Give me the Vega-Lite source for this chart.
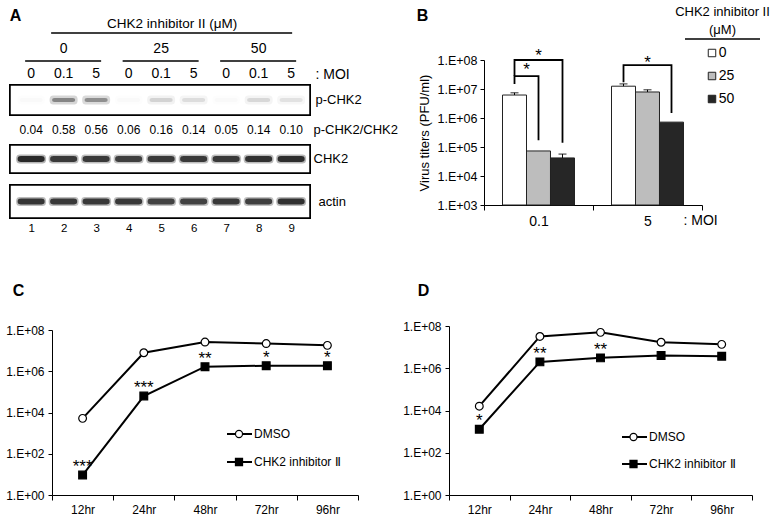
{
  "$schema": "https://vega.github.io/schema/vega-lite/v6.json",
  "width": 779,
  "height": 524,
  "autosize": {"type": "none"},
  "padding": 0,
  "background": "white",
  "config": {
    "view": {"stroke": null},
    "font": "Liberation Sans",
    "axis": {"grid": false, "labelFont": "Liberation Sans", "titleFont": "Liberation Sans", "labelColor": "black", "titleColor": "black", "domainColor": "black", "tickColor": "black", "labelFontSize": 12, "titleFontWeight": "normal"},
    "text": {"font": "Liberation Sans", "color": "black"}
  },
  "datasets": {
    "lanes": [
      {"lane": 1, "moi": "0", "ratio": "0.04", "p": 0.02, "chk2": 0.95, "actin": 0.88},
      {"lane": 2, "moi": "0.1", "ratio": "0.58", "p": 0.5, "chk2": 0.85, "actin": 0.85},
      {"lane": 3, "moi": "5", "ratio": "0.56", "p": 0.45, "chk2": 0.85, "actin": 0.85},
      {"lane": 4, "moi": "0", "ratio": "0.06", "p": 0.02, "chk2": 0.82, "actin": 0.85},
      {"lane": 5, "moi": "0.1", "ratio": "0.16", "p": 0.16, "chk2": 0.85, "actin": 0.8},
      {"lane": 6, "moi": "5", "ratio": "0.14", "p": 0.12, "chk2": 0.85, "actin": 0.8},
      {"lane": 7, "moi": "0", "ratio": "0.05", "p": 0.02, "chk2": 0.85, "actin": 0.85},
      {"lane": 8, "moi": "0.1", "ratio": "0.14", "p": 0.14, "chk2": 0.9, "actin": 0.82},
      {"lane": 9, "moi": "5", "ratio": "0.10", "p": 0.1, "chk2": 0.92, "actin": 0.9}
    ],
    "doses": [
      {"dose": "0", "first": 1, "mid": 2, "last": 3},
      {"dose": "25", "first": 4, "mid": 5, "last": 6},
      {"dose": "50", "first": 7, "mid": 8, "last": 9}
    ],
    "inhibitor": [{"label": "CHK2 inhibitor II (μM)", "first": 1, "mid": 5, "last": 9}],
    "titers": [
      {"moi": "0.1", "dose": "0", "titer": 6200000, "upper": 7400000},
      {"moi": "0.1", "dose": "25", "titer": 73000, "upper": null},
      {"moi": "0.1", "dose": "50", "titer": 42000, "upper": 57000},
      {"moi": "5", "dose": "0", "titer": 12500000, "upper": 15000000},
      {"moi": "5", "dose": "25", "titer": 7900000, "upper": 9400000},
      {"moi": "5", "dose": "50", "titer": 720000, "upper": null}
    ],
    "brackets": [
      {"bracket": "b1", "step": 1, "moi": "0.1", "dose": "0", "titer": 15000000},
      {"bracket": "b1", "step": 2, "moi": "0.1", "dose": "0", "titer": 28000000},
      {"bracket": "b1", "step": 3, "moi": "0.1", "dose": "25", "titer": 28000000},
      {"bracket": "b1", "step": 4, "moi": "0.1", "dose": "25", "titer": 170000},
      {"bracket": "b2", "step": 1, "moi": "0.1", "dose": "0", "titer": 28000000},
      {"bracket": "b2", "step": 2, "moi": "0.1", "dose": "0", "titer": 100000000},
      {"bracket": "b2", "step": 3, "moi": "0.1", "dose": "50", "titer": 100000000},
      {"bracket": "b2", "step": 4, "moi": "0.1", "dose": "50", "titer": 140000},
      {"bracket": "b3", "step": 1, "moi": "5", "dose": "0", "titer": 17000000},
      {"bracket": "b3", "step": 2, "moi": "5", "dose": "0", "titer": 67000000},
      {"bracket": "b3", "step": 3, "moi": "5", "dose": "50", "titer": 67000000},
      {"bracket": "b3", "step": 4, "moi": "5", "dose": "50", "titer": 1500000}
    ],
    "bstars": [
      {"bracket": "b1", "moi": "0.1", "dose": "0", "titer": 45000000, "label": "*"},
      {"bracket": "b2", "moi": "0.1", "dose": "25", "titer": 137000000, "label": "*"},
      {"bracket": "b3", "moi": "5", "dose": "25", "titer": 76000000, "label": "*"}
    ],
    "doselegend": [{"dose": "0"}, {"dose": "25"}, {"dose": "50"}],
    "serieslegend": [{"series": "DMSO"}, {"series": "CHK2 inhibitor Ⅱ"}],
    "growthC": [
      {"time": "12hr", "series": "DMSO", "titer": 5200},
      {"time": "24hr", "series": "DMSO", "titer": 7900000},
      {"time": "48hr", "series": "DMSO", "titer": 26000000},
      {"time": "72hr", "series": "DMSO", "titer": 22000000},
      {"time": "96hr", "series": "DMSO", "titer": 18000000},
      {"time": "12hr", "series": "CHK2 inhibitor Ⅱ", "titer": 9.3},
      {"time": "24hr", "series": "CHK2 inhibitor Ⅱ", "titer": 63000},
      {"time": "48hr", "series": "CHK2 inhibitor Ⅱ", "titer": 1660000},
      {"time": "72hr", "series": "CHK2 inhibitor Ⅱ", "titer": 1860000},
      {"time": "96hr", "series": "CHK2 inhibitor Ⅱ", "titer": 1860000}
    ],
    "starsC": [
      {"time": "12hr", "titer": 9.3, "label": "***"},
      {"time": "24hr", "titer": 63000, "label": "***"},
      {"time": "48hr", "titer": 1660000, "label": "**"},
      {"time": "72hr", "titer": 1860000, "label": "*"},
      {"time": "96hr", "titer": 1860000, "label": "*"}
    ],
    "growthD": [
      {"time": "12hr", "series": "DMSO", "titer": 16000},
      {"time": "24hr", "series": "DMSO", "titer": 32000000},
      {"time": "48hr", "series": "DMSO", "titer": 50000000},
      {"time": "72hr", "series": "DMSO", "titer": 17000000},
      {"time": "96hr", "series": "DMSO", "titer": 13500000},
      {"time": "12hr", "series": "CHK2 inhibitor Ⅱ", "titer": 1300},
      {"time": "24hr", "series": "CHK2 inhibitor Ⅱ", "titer": 2000000},
      {"time": "48hr", "series": "CHK2 inhibitor Ⅱ", "titer": 3100000},
      {"time": "72hr", "series": "CHK2 inhibitor Ⅱ", "titer": 4000000},
      {"time": "96hr", "series": "CHK2 inhibitor Ⅱ", "titer": 3700000}
    ],
    "starsD": [
      {"time": "12hr", "titer": 1300, "label": "*"},
      {"time": "24hr", "titer": 2000000, "label": "**"},
      {"time": "48hr", "titer": 3100000, "label": "**"}
    ]
  },
  "layer": [
    {
      "layer": [
        {
          "layer": [
            {
              "data": {"name": "inhibitor"},
              "mark": {"type": "text", "fontSize": 13.5, "dx": 11, "baseline": "middle"},
              "encoding": {
                "x": {"field": "mid", "type": "quantitative", "scale": {"domain": [0.35, 9.58], "range": [10, 310], "nice": false, "zero": false}, "axis": {"orient": "bottom", "offset": -306, "values": [1, 2, 3, 4, 5, 6, 7, 8, 9], "format": "d", "ticks": false, "tickSize": 0, "domain": false, "labelPadding": 4, "labelFontSize": 11.5, "title": "A", "titleX": 15, "titleY": -203, "titleAngle": 0, "titleAlign": "center", "titleBaseline": "middle", "titleFontSize": 16, "titleFontWeight": "bold"}},
                "y": {"datum": "inhibitor", "type": "nominal", "scale": {"type": "point", "domain": ["inhibitor", "dose", "MOI"], "range": [24, 74], "padding": 0}, "axis": {"orient": "right", "offset": -469, "ticks": false, "tickSize": 0, "domain": false, "labelPadding": 5, "labelFontSize": 14, "labelExpr": "datum.value == 'MOI' ? ': MOI' : ''", "title": null}},
                "text": {"field": "label"}
              }
            },
            {
              "data": {"name": "inhibitor"},
              "mark": {"type": "rule", "color": "black", "strokeWidth": 1.5, "yOffset": 9, "xOffset": 20, "x2Offset": 1},
              "encoding": {
                "x": {"field": "first", "type": "quantitative", "scale": {"domain": [0.35, 9.58], "range": [10, 310], "nice": false, "zero": false}, "axis": {"orient": "bottom", "offset": -306, "values": [1, 2, 3, 4, 5, 6, 7, 8, 9], "format": "d", "ticks": false, "tickSize": 0, "domain": false, "labelPadding": 4, "labelFontSize": 11.5, "title": "A", "titleX": 15, "titleY": -203, "titleAngle": 0, "titleAlign": "center", "titleBaseline": "middle", "titleFontSize": 16, "titleFontWeight": "bold"}},
                "x2": {"field": "last"},
                "y": {"datum": "inhibitor", "type": "nominal", "scale": {"type": "point", "domain": ["inhibitor", "dose", "MOI"], "range": [24, 74], "padding": 0}, "axis": {"orient": "right", "offset": -469, "ticks": false, "tickSize": 0, "domain": false, "labelPadding": 5, "labelFontSize": 14, "labelExpr": "datum.value == 'MOI' ? ': MOI' : ''", "title": null}}
              }
            },
            {
              "data": {"name": "doses"},
              "mark": {"type": "text", "fontSize": 14, "baseline": "middle"},
              "encoding": {
                "x": {"field": "mid", "type": "quantitative", "scale": {"domain": [0.35, 9.58], "range": [10, 310], "nice": false, "zero": false}, "axis": {"orient": "bottom", "offset": -306, "values": [1, 2, 3, 4, 5, 6, 7, 8, 9], "format": "d", "ticks": false, "tickSize": 0, "domain": false, "labelPadding": 4, "labelFontSize": 11.5, "title": "A", "titleX": 15, "titleY": -203, "titleAngle": 0, "titleAlign": "center", "titleBaseline": "middle", "titleFontSize": 16, "titleFontWeight": "bold"}},
                "y": {"datum": "dose", "type": "nominal", "scale": {"type": "point", "domain": ["inhibitor", "dose", "MOI"], "range": [24, 74], "padding": 0}, "axis": {"orient": "right", "offset": -469, "ticks": false, "tickSize": 0, "domain": false, "labelPadding": 5, "labelFontSize": 14, "labelExpr": "datum.value == 'MOI' ? ': MOI' : ''", "title": null}},
                "text": {"field": "dose"}
              }
            },
            {
              "data": {"name": "doses"},
              "mark": {"type": "rule", "color": "black", "strokeWidth": 1.5, "yOffset": 12, "xOffset": -6, "x2Offset": 5},
              "encoding": {
                "x": {"field": "first", "type": "quantitative", "scale": {"domain": [0.35, 9.58], "range": [10, 310], "nice": false, "zero": false}, "axis": {"orient": "bottom", "offset": -306, "values": [1, 2, 3, 4, 5, 6, 7, 8, 9], "format": "d", "ticks": false, "tickSize": 0, "domain": false, "labelPadding": 4, "labelFontSize": 11.5, "title": "A", "titleX": 15, "titleY": -203, "titleAngle": 0, "titleAlign": "center", "titleBaseline": "middle", "titleFontSize": 16, "titleFontWeight": "bold"}},
                "x2": {"field": "last"},
                "y": {"datum": "dose", "type": "nominal", "scale": {"type": "point", "domain": ["inhibitor", "dose", "MOI"], "range": [24, 74], "padding": 0}, "axis": {"orient": "right", "offset": -469, "ticks": false, "tickSize": 0, "domain": false, "labelPadding": 5, "labelFontSize": 14, "labelExpr": "datum.value == 'MOI' ? ': MOI' : ''", "title": null}}
              }
            },
            {
              "data": {"name": "lanes"},
              "mark": {"type": "text", "fontSize": 14, "baseline": "middle"},
              "encoding": {
                "x": {"field": "lane", "type": "quantitative", "scale": {"domain": [0.35, 9.58], "range": [10, 310], "nice": false, "zero": false}, "axis": {"orient": "bottom", "offset": -306, "values": [1, 2, 3, 4, 5, 6, 7, 8, 9], "format": "d", "ticks": false, "tickSize": 0, "domain": false, "labelPadding": 4, "labelFontSize": 11.5, "title": "A", "titleX": 15, "titleY": -203, "titleAngle": 0, "titleAlign": "center", "titleBaseline": "middle", "titleFontSize": 16, "titleFontWeight": "bold"}},
                "y": {"datum": "MOI", "type": "nominal", "scale": {"type": "point", "domain": ["inhibitor", "dose", "MOI"], "range": [24, 74], "padding": 0}, "axis": {"orient": "right", "offset": -469, "ticks": false, "tickSize": 0, "domain": false, "labelPadding": 5, "labelFontSize": 14, "labelExpr": "datum.value == 'MOI' ? ': MOI' : ''", "title": null}},
                "text": {"field": "moi"}
              }
            }
          ]
        },
        {
          "data": {"name": "lanes"},
          "encoding": {
            "x": {"field": "lane", "type": "quantitative", "scale": {"domain": [0.35, 9.58], "range": [10, 310], "nice": false, "zero": false}, "axis": {"orient": "bottom", "offset": -306, "values": [1, 2, 3, 4, 5, 6, 7, 8, 9], "format": "d", "ticks": false, "tickSize": 0, "domain": false, "labelPadding": 4, "labelFontSize": 11.5, "title": "A", "titleX": 15, "titleY": -203, "titleAngle": 0, "titleAlign": "center", "titleBaseline": "middle", "titleFontSize": 16, "titleFontWeight": "bold"}},
            "y": {"datum": "p-CHK2", "type": "nominal", "scale": {"type": "band", "domain": ["p-CHK2"], "range": [85, 115], "paddingInner": 0, "paddingOuter": 0}, "axis": {"orient": "right", "offset": -469, "ticks": false, "tickSize": 0, "domain": false, "labelPadding": 5, "labelFontSize": 13, "title": null}}
          },
          "layer": [
            {
              "mark": {"type": "rect", "fill": "white", "stroke": "black", "strokeWidth": 1.5},
              "encoding": {
                "x": {"datum": 0.35, "type": "quantitative", "scale": {"domain": [0.35, 9.58], "range": [10, 310], "nice": false, "zero": false}, "axis": {"orient": "bottom", "offset": -306, "values": [1, 2, 3, 4, 5, 6, 7, 8, 9], "format": "d", "ticks": false, "tickSize": 0, "domain": false, "labelPadding": 4, "labelFontSize": 11.5, "title": "A", "titleX": 15, "titleY": -203, "titleAngle": 0, "titleAlign": "center", "titleBaseline": "middle", "titleFontSize": 16, "titleFontWeight": "bold"}},
                "x2": {"datum": 9.58}
              }
            },
            {
              "mark": {"type": "point", "shape": "M-1,0C-1,-0.32,-0.85,-0.32,-0.6,-0.32L0.6,-0.32C0.85,-0.32,1,-0.32,1,0C1,0.32,0.85,0.32,0.6,0.32L-0.6,0.32C-0.85,0.32,-1,0.32,-1,0Z", "size": 784, "filled": true, "color": "#333333", "strokeWidth": 0, "fillOpacity": 0.4},
              "encoding": {
                "opacity": {"field": "p", "type": "quantitative", "scale": {"domain": [0, 1], "range": [0, 1]}, "legend": null}
              }
            },
            {
              "mark": {"type": "point", "shape": "M-1,0C-1,-0.18,-0.85,-0.18,-0.6,-0.18L0.6,-0.18C0.85,-0.18,1,-0.18,1,0C1,0.18,0.85,0.18,0.6,0.18L-0.6,0.18C-0.85,0.18,-1,0.18,-1,0Z", "size": 529, "filled": true, "color": "#333333", "strokeWidth": 0},
              "encoding": {
                "opacity": {"field": "p", "type": "quantitative", "scale": {"domain": [0, 1], "range": [0, 1]}, "legend": null}
              }
            }
          ]
        },
        {
          "data": {"name": "lanes"},
          "mark": {"type": "text", "fontSize": 12, "baseline": "middle"},
          "encoding": {
            "x": {"field": "lane", "type": "quantitative", "scale": {"domain": [0.35, 9.58], "range": [10, 310], "nice": false, "zero": false}, "axis": {"orient": "bottom", "offset": -306, "values": [1, 2, 3, 4, 5, 6, 7, 8, 9], "format": "d", "ticks": false, "tickSize": 0, "domain": false, "labelPadding": 4, "labelFontSize": 11.5, "title": "A", "titleX": 15, "titleY": -203, "titleAngle": 0, "titleAlign": "center", "titleBaseline": "middle", "titleFontSize": 16, "titleFontWeight": "bold"}},
            "y": {"datum": "p-CHK2/CHK2", "type": "nominal", "scale": {"type": "band", "domain": ["p-CHK2/CHK2"], "range": [115, 145], "paddingInner": 0, "paddingOuter": 0}, "axis": {"orient": "right", "offset": -469, "ticks": false, "tickSize": 0, "domain": false, "labelPadding": 3, "labelFontSize": 13, "title": null}},
            "text": {"field": "ratio"}
          }
        },
        {
          "data": {"name": "lanes"},
          "encoding": {
            "x": {"field": "lane", "type": "quantitative", "scale": {"domain": [0.35, 9.58], "range": [10, 310], "nice": false, "zero": false}, "axis": {"orient": "bottom", "offset": -306, "values": [1, 2, 3, 4, 5, 6, 7, 8, 9], "format": "d", "ticks": false, "tickSize": 0, "domain": false, "labelPadding": 4, "labelFontSize": 11.5, "title": "A", "titleX": 15, "titleY": -203, "titleAngle": 0, "titleAlign": "center", "titleBaseline": "middle", "titleFontSize": 16, "titleFontWeight": "bold"}},
            "y": {"datum": "CHK2", "type": "nominal", "scale": {"type": "band", "domain": ["CHK2"], "range": [145, 173], "paddingInner": 0, "paddingOuter": 0}, "axis": {"orient": "right", "offset": -469, "ticks": false, "tickSize": 0, "domain": false, "labelPadding": 3, "labelFontSize": 13, "title": null}}
          },
          "layer": [
            {
              "mark": {"type": "rect", "fill": "white", "stroke": "black", "strokeWidth": 1.5},
              "encoding": {
                "x": {"datum": 0.35, "type": "quantitative", "scale": {"domain": [0.35, 9.58], "range": [10, 310], "nice": false, "zero": false}, "axis": {"orient": "bottom", "offset": -306, "values": [1, 2, 3, 4, 5, 6, 7, 8, 9], "format": "d", "ticks": false, "tickSize": 0, "domain": false, "labelPadding": 4, "labelFontSize": 11.5, "title": "A", "titleX": 15, "titleY": -203, "titleAngle": 0, "titleAlign": "center", "titleBaseline": "middle", "titleFontSize": 16, "titleFontWeight": "bold"}},
                "x2": {"datum": 9.58}
              }
            },
            {
              "mark": {"type": "point", "shape": "M-1,0C-1,-0.3,-0.85,-0.3,-0.6,-0.3L0.6,-0.3C0.85,-0.3,1,-0.3,1,0C1,0.3,0.85,0.3,0.6,0.3L-0.6,0.3C-0.85,0.3,-1,0.3,-1,0Z", "size": 900, "filled": true, "color": "#222222", "strokeWidth": 0, "fillOpacity": 0.35},
              "encoding": {
                "opacity": {"field": "chk2", "type": "quantitative", "scale": {"domain": [0, 1], "range": [0, 1]}, "legend": null}
              }
            },
            {
              "mark": {"type": "point", "shape": "M-1,0C-1,-0.22,-0.85,-0.22,-0.6,-0.22L0.6,-0.22C0.85,-0.22,1,-0.22,1,0C1,0.22,0.85,0.22,0.6,0.22L-0.6,0.22C-0.85,0.22,-1,0.22,-1,0Z", "size": 729, "filled": true, "color": "#222222", "strokeWidth": 0},
              "encoding": {
                "opacity": {"field": "chk2", "type": "quantitative", "scale": {"domain": [0, 1], "range": [0, 1]}, "legend": null}
              }
            }
          ]
        },
        {
          "data": {"name": "lanes"},
          "encoding": {
            "x": {"field": "lane", "type": "quantitative", "scale": {"domain": [0.35, 9.58], "range": [10, 310], "nice": false, "zero": false}, "axis": {"orient": "bottom", "offset": -306, "values": [1, 2, 3, 4, 5, 6, 7, 8, 9], "format": "d", "ticks": false, "tickSize": 0, "domain": false, "labelPadding": 4, "labelFontSize": 11.5, "title": "A", "titleX": 15, "titleY": -203, "titleAngle": 0, "titleAlign": "center", "titleBaseline": "middle", "titleFontSize": 16, "titleFontWeight": "bold"}},
            "y": {"datum": "actin", "type": "nominal", "scale": {"type": "band", "domain": ["actin"], "range": [185, 218], "paddingInner": 0, "paddingOuter": 0}, "axis": {"orient": "right", "offset": -469, "ticks": false, "tickSize": 0, "domain": false, "labelPadding": 8, "labelFontSize": 13, "title": null}}
          },
          "layer": [
            {
              "mark": {"type": "rect", "fill": "white", "stroke": "black", "strokeWidth": 1.5},
              "encoding": {
                "x": {"datum": 0.35, "type": "quantitative", "scale": {"domain": [0.35, 9.58], "range": [10, 310], "nice": false, "zero": false}, "axis": {"orient": "bottom", "offset": -306, "values": [1, 2, 3, 4, 5, 6, 7, 8, 9], "format": "d", "ticks": false, "tickSize": 0, "domain": false, "labelPadding": 4, "labelFontSize": 11.5, "title": "A", "titleX": 15, "titleY": -203, "titleAngle": 0, "titleAlign": "center", "titleBaseline": "middle", "titleFontSize": 16, "titleFontWeight": "bold"}},
                "x2": {"datum": 9.58}
              }
            },
            {
              "mark": {"type": "point", "shape": "M-1,0C-1,-0.3,-0.85,-0.3,-0.6,-0.3L0.6,-0.3C0.85,-0.3,1,-0.3,1,0C1,0.3,0.85,0.3,0.6,0.3L-0.6,0.3C-0.85,0.3,-1,0.3,-1,0Z", "size": 900, "filled": true, "color": "#222222", "strokeWidth": 0, "fillOpacity": 0.35},
              "encoding": {
                "opacity": {"field": "actin", "type": "quantitative", "scale": {"domain": [0, 1], "range": [0, 1]}, "legend": null}
              }
            },
            {
              "mark": {"type": "point", "shape": "M-1,0C-1,-0.22,-0.85,-0.22,-0.6,-0.22L0.6,-0.22C0.85,-0.22,1,-0.22,1,0C1,0.22,0.85,0.22,0.6,0.22L-0.6,0.22C-0.85,0.22,-1,0.22,-1,0Z", "size": 729, "filled": true, "color": "#222222", "strokeWidth": 0},
              "encoding": {
                "opacity": {"field": "actin", "type": "quantitative", "scale": {"domain": [0, 1], "range": [0, 1]}, "legend": null}
              }
            }
          ]
        }
      ],
      "resolve": {"scale": {"y": "independent"}}
    },
    {
      "encoding": {
        "x": {"field": "moi", "type": "nominal", "scale": {"type": "band", "domain": ["0.1", "5"], "range": [484, 702], "paddingInner": 0, "paddingOuter": 0}, "axis": {"orient": "bottom", "offset": -319, "tickBand": "extent", "tickSize": 5, "labelPadding": 4, "labelFontSize": 14, "labelAngle": 0, "title": ": MOI", "titleFontSize": 14, "titleX": 683, "titleY": 15, "titleAlign": "left", "titleBaseline": "middle", "titleAngle": 0}},
        "xOffset": {"field": "dose", "type": "nominal", "scale": {"type": "band", "domain": ["0", "25", "50"], "paddingInner": 0, "paddingOuter": 0.771}},
        "y": {"field": "titer", "type": "quantitative", "scale": {"type": "log", "domain": [1000, 100000000], "range": [205, 60], "nice": false}, "axis": {"orient": "left", "offset": -484, "values": [1000, 10000, 100000, 1000000, 10000000, 100000000], "labelExpr": "'1.E+' + (round(log(datum.value)/LN10) < 10 ? '0' : '') + round(log(datum.value)/LN10)", "tickSize": 4, "labelPadding": 3, "labelFontSize": 12.5, "title": "Virus titers (PFU/ml)", "titleFontSize": 13, "titlePadding": 6}}
      },
      "layer": [
        {
          "data": {"name": "titers"},
          "mark": {"type": "bar", "stroke": "#222222", "strokeWidth": 1},
          "encoding": {
            "y2": {"datum": 1000},
            "fill": {"field": "dose", "type": "nominal", "scale": {"domain": ["0", "25", "50"], "range": ["#ffffff", "#bdbdbd", "#262626"]}, "legend": null}
          }
        },
        {
          "data": {"name": "titers"},
          "transform": [{"filter": "datum.upper != null"}],
          "mark": {"type": "rule", "color": "black", "strokeWidth": 1},
          "encoding": {
            "y2": {"field": "upper"}
          }
        },
        {
          "data": {"name": "titers"},
          "transform": [{"filter": "datum.upper != null"}],
          "mark": {"type": "tick", "orient": "horizontal", "size": 8, "thickness": 1.2, "color": "black"},
          "encoding": {
            "y": {"field": "upper", "type": "quantitative", "scale": {"type": "log", "domain": [1000, 100000000], "range": [205, 60], "nice": false}, "axis": {"orient": "left", "offset": -484, "values": [1000, 10000, 100000, 1000000, 10000000, 100000000], "labelExpr": "'1.E+' + (round(log(datum.value)/LN10) < 10 ? '0' : '') + round(log(datum.value)/LN10)", "tickSize": 4, "labelPadding": 3, "labelFontSize": 12.5, "title": "Virus titers (PFU/ml)", "titleFontSize": 13, "titlePadding": 6}}
          }
        },
        {
          "data": {"name": "brackets"},
          "mark": {"type": "line", "color": "black", "strokeWidth": 1.8},
          "encoding": {
            "detail": {"field": "bracket"},
            "order": {"field": "step", "type": "quantitative"}
          }
        },
        {
          "data": {"name": "bstars"},
          "transform": [{"filter": "datum.bracket == 'b1'"}],
          "mark": {"type": "text", "fontSize": 17, "baseline": "middle", "dx": 12},
          "encoding": {"text": {"field": "label"}}
        },
        {
          "data": {"name": "bstars"},
          "transform": [{"filter": "datum.bracket != 'b1'"}],
          "mark": {"type": "text", "fontSize": 17, "baseline": "middle"},
          "encoding": {"text": {"field": "label"}}
        }
      ]
    },
    {
      "data": {"name": "doselegend"},
      "layer": [
        {
          "mark": {"type": "point", "shape": "square", "size": 56, "filled": true, "stroke": "#222222", "strokeWidth": 1, "opacity": 1},
          "encoding": {
            "x": {"datum": 0.36, "type": "quantitative", "scale": {"domain": [0, 1], "range": [685, 760], "nice": false, "zero": false}, "axis": {"orient": "bottom", "offset": 0, "labels": false, "ticks": false, "domain": false, "title": "B", "titleX": 422, "titleY": -509, "titleAngle": 0, "titleAlign": "center", "titleBaseline": "middle", "titleFontSize": 16, "titleFontWeight": "bold"}},
            "y": {"field": "dose", "type": "nominal", "scale": {"type": "point", "domain": ["0", "25", "50"], "range": [53, 99], "padding": 0}, "axis": null},
            "fill": {"field": "dose", "type": "nominal", "scale": {"domain": ["0", "25", "50"], "range": ["#ffffff", "#bdbdbd", "#262626"]}, "legend": null}
          }
        },
        {
          "mark": {"type": "text", "align": "left", "baseline": "middle", "fontSize": 14},
          "encoding": {
            "x": {"datum": 0.45, "type": "quantitative", "scale": {"domain": [0, 1], "range": [685, 760], "nice": false, "zero": false}, "axis": {"orient": "bottom", "offset": 0, "labels": false, "ticks": false, "domain": false, "title": "B", "titleX": 422, "titleY": -509, "titleAngle": 0, "titleAlign": "center", "titleBaseline": "middle", "titleFontSize": 16, "titleFontWeight": "bold"}},
            "y": {"field": "dose", "type": "nominal", "scale": {"type": "point", "domain": ["0", "25", "50"], "range": [53, 99], "padding": 0}, "axis": null},
            "text": {"field": "dose"}
          }
        },
        {
          "data": {"values": [{"line": "CHK2 inhibitor II"}]},
          "mark": {"type": "text", "align": "center", "baseline": "middle", "fontSize": 13, "dy": -41},
          "encoding": {
            "x": {"datum": 0.5, "type": "quantitative", "scale": {"domain": [0, 1], "range": [685, 760], "nice": false, "zero": false}, "axis": {"orient": "bottom", "offset": 0, "labels": false, "ticks": false, "domain": false, "title": "B", "titleX": 422, "titleY": -509, "titleAngle": 0, "titleAlign": "center", "titleBaseline": "middle", "titleFontSize": 16, "titleFontWeight": "bold"}},
            "y": {"datum": "0", "type": "nominal", "scale": {"type": "point", "domain": ["0", "25", "50"], "range": [53, 99], "padding": 0}, "axis": null},
            "text": {"field": "line"}
          }
        },
        {
          "data": {"values": [{"line": "(μM)"}]},
          "mark": {"type": "text", "align": "center", "baseline": "middle", "fontSize": 13, "dy": -23},
          "encoding": {
            "x": {"datum": 0.5, "type": "quantitative", "scale": {"domain": [0, 1], "range": [685, 760], "nice": false, "zero": false}, "axis": {"orient": "bottom", "offset": 0, "labels": false, "ticks": false, "domain": false, "title": "B", "titleX": 422, "titleY": -509, "titleAngle": 0, "titleAlign": "center", "titleBaseline": "middle", "titleFontSize": 16, "titleFontWeight": "bold"}},
            "y": {"datum": "0", "type": "nominal", "scale": {"type": "point", "domain": ["0", "25", "50"], "range": [53, 99], "padding": 0}, "axis": null},
            "text": {"field": "line"}
          }
        },
        {
          "data": {"values": [{}]},
          "mark": {"type": "rule", "color": "black", "strokeWidth": 1.3, "yOffset": -14},
          "encoding": {
            "x": {"datum": 0, "type": "quantitative", "scale": {"domain": [0, 1], "range": [685, 760], "nice": false, "zero": false}, "axis": {"orient": "bottom", "offset": 0, "labels": false, "ticks": false, "domain": false, "title": "B", "titleX": 422, "titleY": -509, "titleAngle": 0, "titleAlign": "center", "titleBaseline": "middle", "titleFontSize": 16, "titleFontWeight": "bold"}},
            "x2": {"datum": 1},
            "y": {"datum": "0", "type": "nominal", "scale": {"type": "point", "domain": ["0", "25", "50"], "range": [53, 99], "padding": 0}, "axis": null}
          }
        }
      ]
    },
    {
      "encoding": {
        "x": {"field": "time", "type": "ordinal", "scale": {"type": "band", "domain": ["12hr", "24hr", "48hr", "72hr", "96hr"], "range": [52, 358], "paddingInner": 0, "paddingOuter": 0}, "axis": {"orient": "bottom", "offset": -29, "tickBand": "extent", "tickSize": 5, "labelPadding": 4, "labelFontSize": 12, "labelAngle": 0, "title": null}},
        "y": {"field": "titer", "type": "quantitative", "scale": {"type": "log", "domain": [1, 100000000], "range": [495, 330], "nice": false}, "axis": {"orient": "left", "offset": -52, "values": [1, 100, 10000, 1000000, 100000000], "labelExpr": "'1.E+' + (round(log(datum.value)/LN10) < 10 ? '0' : '') + round(log(datum.value)/LN10)", "tickSize": 4, "labelPadding": 4, "labelFontSize": 12, "title": "C", "titleX": -34, "titleY": 290, "titleAngle": 0, "titleAlign": "center", "titleBaseline": "middle", "titleFontSize": 16, "titleFontWeight": "bold"}}
      },
      "layer": [
        {
          "data": {"name": "growthC"},
          "mark": {"type": "line", "color": "black", "strokeWidth": 2},
          "encoding": {"detail": {"field": "series"}}
        },
        {
          "data": {"name": "growthC"},
          "mark": {"type": "point", "filled": true, "stroke": "black", "strokeWidth": 1.2, "size": 60, "opacity": 1},
          "encoding": {
            "shape": {"field": "series", "type": "nominal", "scale": {"domain": ["DMSO", "CHK2 inhibitor Ⅱ"], "range": ["circle", "square"]}, "legend": null},
            "fill": {"field": "series", "type": "nominal", "scale": {"domain": ["DMSO", "CHK2 inhibitor Ⅱ"], "range": ["white", "black"]}, "legend": null}
          }
        },
        {
          "data": {"name": "starsC"},
          "mark": {"type": "text", "fontSize": 17, "baseline": "middle", "dy": -8},
          "encoding": {"text": {"field": "label"}}
        }
      ]
    },
    {
      "data": {"name": "serieslegend"},
      "encoding": {
        "y": {"field": "series", "type": "nominal", "scale": {"type": "point", "domain": ["DMSO", "CHK2 inhibitor Ⅱ"], "range": [434, 462], "padding": 0}, "axis": null}
      },
      "layer": [
        {
          "mark": {"type": "rule", "color": "black", "strokeWidth": 2},
          "encoding": {
            "x": {"datum": 0, "type": "quantitative", "scale": {"domain": [0, 1], "range": [227, 252], "nice": false, "zero": false}, "axis": null},
            "x2": {"datum": 1}
          }
        },
        {
          "mark": {"type": "point", "filled": true, "stroke": "black", "strokeWidth": 1.2, "size": 50, "opacity": 1},
          "encoding": {
            "x": {"datum": 0.48, "type": "quantitative", "scale": {"domain": [0, 1], "range": [227, 252], "nice": false, "zero": false}, "axis": null},
            "shape": {"field": "series", "type": "nominal", "scale": {"domain": ["DMSO", "CHK2 inhibitor Ⅱ"], "range": ["circle", "square"]}, "legend": null},
            "fill": {"field": "series", "type": "nominal", "scale": {"domain": ["DMSO", "CHK2 inhibitor Ⅱ"], "range": ["white", "black"]}, "legend": null}
          }
        },
        {
          "mark": {"type": "text", "align": "left", "baseline": "middle", "fontSize": 12, "dx": 2},
          "encoding": {
            "x": {"datum": 1, "type": "quantitative", "scale": {"domain": [0, 1], "range": [227, 252], "nice": false, "zero": false}, "axis": null},
            "text": {"field": "series"}
          }
        }
      ]
    },
    {
      "encoding": {
        "x": {"field": "time", "type": "ordinal", "scale": {"type": "band", "domain": ["12hr", "24hr", "48hr", "72hr", "96hr"], "range": [449, 752], "paddingInner": 0, "paddingOuter": 0}, "axis": {"orient": "bottom", "offset": -29, "tickBand": "extent", "tickSize": 5, "labelPadding": 4, "labelFontSize": 12, "labelAngle": 0, "title": null}},
        "y": {"field": "titer", "type": "quantitative", "scale": {"type": "log", "domain": [1, 100000000], "range": [495, 326], "nice": false}, "axis": {"orient": "left", "offset": -449, "values": [1, 100, 10000, 1000000, 100000000], "labelExpr": "'1.E+' + (round(log(datum.value)/LN10) < 10 ? '0' : '') + round(log(datum.value)/LN10)", "tickSize": 4, "labelPadding": 4, "labelFontSize": 12, "title": "D", "titleX": -26, "titleY": 290, "titleAngle": 0, "titleAlign": "center", "titleBaseline": "middle", "titleFontSize": 16, "titleFontWeight": "bold"}}
      },
      "layer": [
        {
          "data": {"name": "growthD"},
          "mark": {"type": "line", "color": "black", "strokeWidth": 2},
          "encoding": {"detail": {"field": "series"}}
        },
        {
          "data": {"name": "growthD"},
          "mark": {"type": "point", "filled": true, "stroke": "black", "strokeWidth": 1.2, "size": 60, "opacity": 1},
          "encoding": {
            "shape": {"field": "series", "type": "nominal", "scale": {"domain": ["DMSO", "CHK2 inhibitor Ⅱ"], "range": ["circle", "square"]}, "legend": null},
            "fill": {"field": "series", "type": "nominal", "scale": {"domain": ["DMSO", "CHK2 inhibitor Ⅱ"], "range": ["white", "black"]}, "legend": null}
          }
        },
        {
          "data": {"name": "starsD"},
          "mark": {"type": "text", "fontSize": 17, "baseline": "middle", "dy": -8},
          "encoding": {"text": {"field": "label"}}
        }
      ]
    },
    {
      "data": {"name": "serieslegend"},
      "encoding": {
        "y": {"field": "series", "type": "nominal", "scale": {"type": "point", "domain": ["DMSO", "CHK2 inhibitor Ⅱ"], "range": [437, 464], "padding": 0}, "axis": null}
      },
      "layer": [
        {
          "mark": {"type": "rule", "color": "black", "strokeWidth": 2},
          "encoding": {
            "x": {"datum": 0, "type": "quantitative", "scale": {"domain": [0, 1], "range": [622, 647], "nice": false, "zero": false}, "axis": null},
            "x2": {"datum": 1}
          }
        },
        {
          "mark": {"type": "point", "filled": true, "stroke": "black", "strokeWidth": 1.2, "size": 50, "opacity": 1},
          "encoding": {
            "x": {"datum": 0.46, "type": "quantitative", "scale": {"domain": [0, 1], "range": [622, 647], "nice": false, "zero": false}, "axis": null},
            "shape": {"field": "series", "type": "nominal", "scale": {"domain": ["DMSO", "CHK2 inhibitor Ⅱ"], "range": ["circle", "square"]}, "legend": null},
            "fill": {"field": "series", "type": "nominal", "scale": {"domain": ["DMSO", "CHK2 inhibitor Ⅱ"], "range": ["white", "black"]}, "legend": null}
          }
        },
        {
          "mark": {"type": "text", "align": "left", "baseline": "middle", "fontSize": 12, "dx": 2},
          "encoding": {
            "x": {"datum": 1, "type": "quantitative", "scale": {"domain": [0, 1], "range": [622, 647], "nice": false, "zero": false}, "axis": null},
            "text": {"field": "series"}
          }
        }
      ]
    }
  ],
  "resolve": {"scale": {"x": "independent", "y": "independent", "xOffset": "independent", "fill": "independent", "opacity": "independent", "shape": "independent"}}
}
